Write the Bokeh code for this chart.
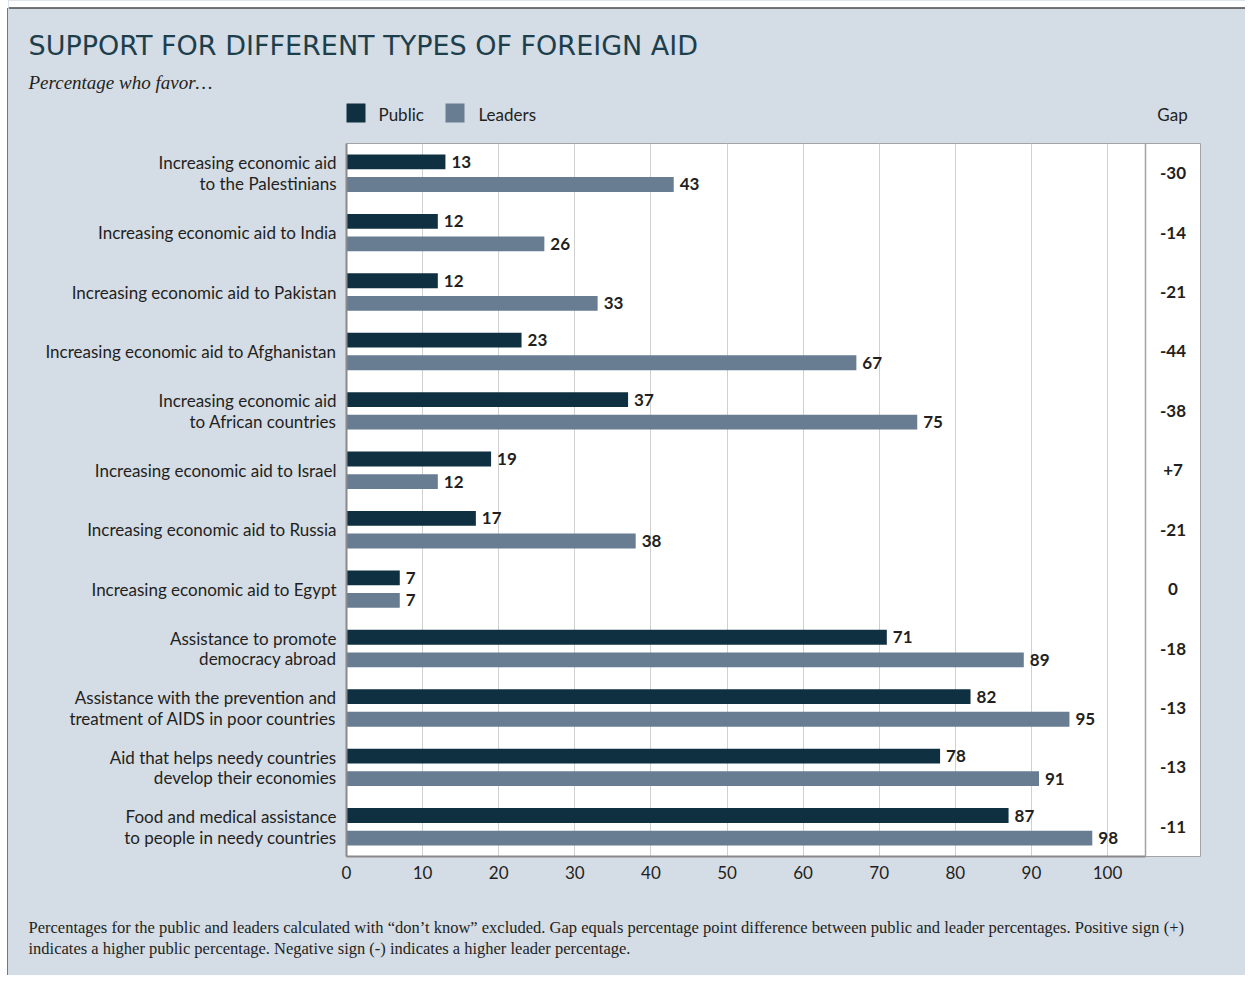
from bokeh.plotting import figure
from bokeh.models import Range1d, FixedTicker, ColumnDataSource, Span
from bokeh.layouts import row, column
from bokeh.transform import dodge
from bokeh.core.properties import value
from bokeh.embed import file_html
from bokeh.resources import INLINE

# ---------------- data ----------------
categories = [
    "Increasing economic aid\nto the Palestinians",
    "Increasing economic aid to India",
    "Increasing economic aid to Pakistan",
    "Increasing economic aid to Afghanistan",
    "Increasing economic aid\nto African countries",
    "Increasing economic aid to Israel",
    "Increasing economic aid to Russia",
    "Increasing economic aid to Egypt",
    "Assistance to promote\ndemocracy abroad",
    "Assistance with the prevention and\ntreatment of AIDS in poor countries",
    "Aid that helps needy countries\ndevelop their economies",
    "Food and medical assistance\nto people in needy countries",
]
public = [13, 12, 12, 23, 37, 19, 17, 7, 71, 82, 78, 87]
leaders = [43, 26, 33, 67, 75, 12, 38, 7, 89, 95, 91, 98]
gap = ["-30", "-14", "-21", "-44", "-38", "+7", "-21", "0", "-18", "-13", "-13", "-11"]
x_ticks = [0, 10, 20, 30, 40, 50, 60, 70, 80, 90, 100]
series_names = ["Public", "Leaders"]

title_text = "SUPPORT FOR DIFFERENT TYPES OF FOREIGN AID"
subtitle_text = "Percentage who favor\u2026"
gap_header = "Gap"
note_line1 = ("Percentages for the public and leaders calculated with \u201cdon\u2019t know\u201d excluded. "
              "Gap equals percentage point difference between public and leader percentages. Positive sign (+)")
note_line2 = "indicates a higher public percentage. Negative sign (-) indicates a higher leader percentage."

# ---------------- styles ----------------
PUBLIC_C = "#0e3040"
LEADER_C = "#687c92"
BG = "#d4dce6"
TXT = "#231f20"
FRAME_C = "#a3a3a3"
AXIS_C = "#8a8a8a"
BORDER_C = "#4a4a4a"
SANS = "Lato"
SERIF = "Liberation Serif"

W, H = 1245, 975          # whole picture
STRIP = 8                 # left white strip with the outer border line
HEAD_H = 142              # header band height
FR_L, FR_R, FR_T, FR_B = 346, 1200, 143, 856   # frame (incl. gap column)
BAR_R = 1145              # right edge of the bar area
PX_X = (1107 - 346) / 100.0
MAIN_BOTTOM = 40
MAIN_H = 1 + (FR_B - FR_T) + MAIN_BOTTOM
FOOT_H = H - HEAD_H - MAIN_H


def blank(width, height, xr, yr, bg):
    f = figure(width=width, height=height, output_backend="svg", toolbar_location=None,
               x_range=Range1d(*xr), y_range=Range1d(*yr),
               x_axis_type=None, y_axis_type=None, min_border=0, frame_align=False)
    f.outline_line_color = None
    f.background_fill_color = bg
    f.border_fill_color = bg
    return f


# ---------- left strip (outer border line) ----------
strip = blank(STRIP, H, (0, STRIP), (H, 0), "white")
strip.quad(left=[7.5], right=[STRIP], top=[7.5], bottom=[H], fill_color=BG, line_color=None)
strip.segment(x0=[7.5], y0=[7.5], x1=[7.5], y1=[H], line_color=BORDER_C, line_width=1.5)

# ---------- header ----------
head = blank(W - STRIP, HEAD_H, (STRIP, W), (HEAD_H, 0), BG)
head.quad(left=[STRIP], right=[W], top=[0], bottom=[7.5], fill_color="white", line_color=None)
head.segment(x0=[STRIP], y0=[7.5], x1=[W], y1=[7.5], line_color=BORDER_C, line_width=1.5)
head.text(x=[28], y=[45], text=[title_text], text_baseline="alphabetic",
          text_font=value("DejaVu Sans"), text_font_size="27px", text_color="#1d3f4c")
head.text(x=[28], y=[82], text=[subtitle_text], text_baseline="alphabetic",
          text_font=value(SERIF), text_font_style="italic", text_font_size="19px",
          text_color=TXT)
# legend
head.quad(left=[346, 445], right=[365, 464], top=[103, 103], bottom=[122, 122],
          fill_color=[PUBLIC_C, LEADER_C], line_color=None)
head.text(x=[378, 478], y=[114, 114], text=series_names, text_baseline="middle",
          text_font=value(SANS), text_font_size="17px", text_color=TXT)
head.text(x=[1172], y=[114], text=[gap_header], text_baseline="middle", text_align="center",
          text_font=value(SANS), text_font_size="17px", text_color=TXT)

# ---------- main chart ----------
x_max = (FR_R - FR_L) / PX_X
main = figure(width=W - STRIP, height=MAIN_H, output_backend="svg", toolbar_location=None,
              x_range=Range1d(0, x_max), y_range=Range1d(11.5, -0.5),
              min_border_left=FR_L - STRIP, min_border_right=W - FR_R,
              min_border_top=1, min_border_bottom=MAIN_BOTTOM, frame_align=False)
main.border_fill_color = BG
main.background_fill_color = "white"
main.outline_line_color = FRAME_C

ys = list(range(len(categories)))
gap_x = ((FR_R + BAR_R) / 2 - FR_L) / PX_X
src = ColumnDataSource(dict(y=ys, public=public, leaders=leaders,
                            pub_lab=[str(v) for v in public],
                            lead_lab=[str(v) for v in leaders],
                            gap=gap, gx=[gap_x] * len(ys)))

main.hbar(y=dodge("y", -0.19, range=main.y_range), right="public", left=0, height=0.25,
          source=src, fill_color=PUBLIC_C, line_color=None)
main.hbar(y=dodge("y", 0.19, range=main.y_range), right="leaders", left=0, height=0.25,
          source=src, fill_color=LEADER_C, line_color=None)
for col, lab, off in (("public", "pub_lab", -0.19), ("leaders", "lead_lab", 0.19)):
    main.text(x=col, y=dodge("y", off, range=main.y_range), text=lab, source=src,
              x_offset=6, text_baseline="middle", text_align="left",
              text_font=value(SANS), text_font_style="bold", text_font_size="17px",
              text_color=TXT)

# gap column
main.add_layout(Span(location=(BAR_R - FR_L) / PX_X, dimension="height",
                     line_color=FRAME_C, line_width=1.5))
main.text(x="gx", y="y", text="gap", source=src, text_align="center", text_baseline="middle",
          text_font=value(SANS), text_font_style="bold", text_font_size="17px", text_color=TXT)

# axes
main.xaxis.ticker = FixedTicker(ticks=x_ticks)
main.xaxis.bounds = (0, (BAR_R - FR_L) / PX_X)
main.xaxis.major_tick_line_color = None
main.xaxis.minor_tick_line_color = None
main.xaxis.axis_line_color = AXIS_C
main.xaxis.axis_line_width = 2
main.xaxis.major_label_standoff = 3
main.xaxis.major_label_text_font = SANS
main.xaxis.major_label_text_font_size = "17px"
main.xaxis.major_label_text_color = TXT

main.yaxis.ticker = FixedTicker(ticks=ys)
main.yaxis.major_label_overrides = {i: c for i, c in zip(ys, categories)}
main.yaxis.major_tick_line_color = None
main.yaxis.minor_tick_line_color = None
main.yaxis.axis_line_color = AXIS_C
main.yaxis.axis_line_width = 2
main.yaxis.major_label_standoff = 4
main.yaxis.major_label_text_font = SANS
main.yaxis.major_label_text_font_size = "17px"
main.yaxis.major_label_text_color = TXT
main.yaxis.major_label_text_line_height = 0.98

main.xgrid.ticker = FixedTicker(ticks=x_ticks)
main.xgrid.bounds = (0, 100)
main.xgrid.grid_line_color = "#d0d0d0"
main.ygrid.grid_line_color = None

# ---------- footer ----------
foot_top = HEAD_H + MAIN_H
foot = blank(W - STRIP, FOOT_H, (STRIP, W), (H, foot_top), BG)
foot.text(x=[28, 28], y=[927, 948], text=[note_line1, note_line2], text_baseline="middle",
          text_font=value(SERIF), text_font_size="16.5px", text_color=TXT)

right_col = column(head, main, foot, spacing=0, styles={"background-color": BG})
layout = row(strip, right_col, spacing=0)
open("out.html", "w").write(file_html(layout, INLINE))
